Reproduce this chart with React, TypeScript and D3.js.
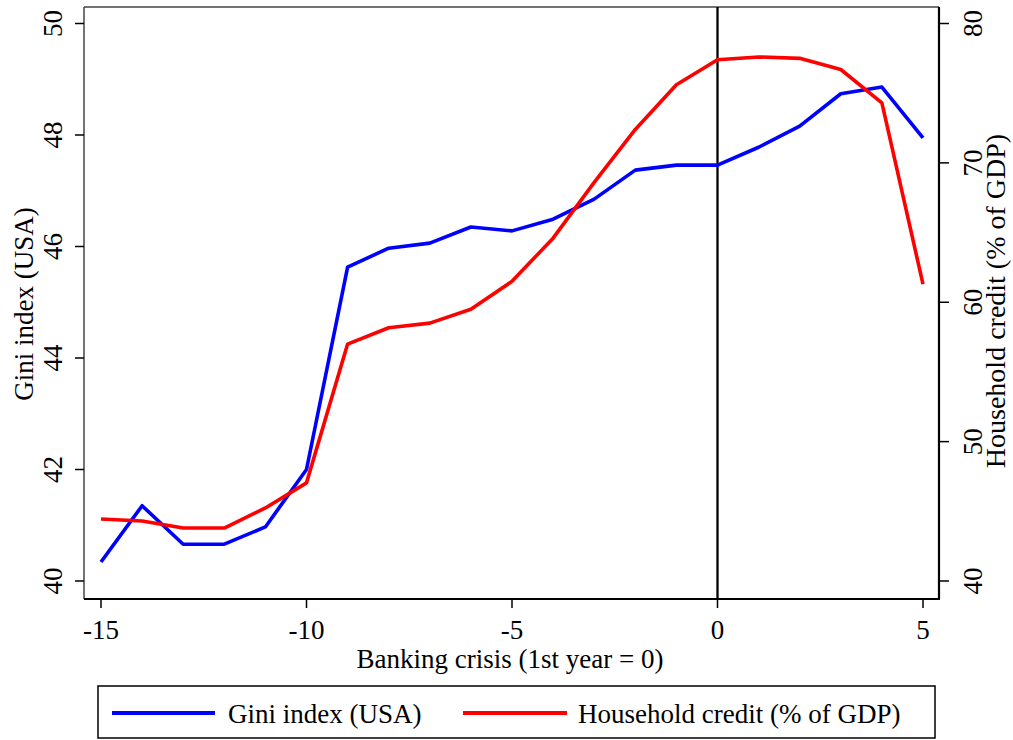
import React from "react";
import * as d3 from "d3";

const years = [-15, -14, -13, -12, -11, -10, -9, -8, -7, -6, -5, -4, -3, -2, -1, 0, 1, 2, 3, 4, 5];
const gini = [40.34, 41.35, 40.66, 40.66, 40.97, 42.0, 45.63, 45.97, 46.06, 46.35, 46.28, 46.49, 46.85, 47.37, 47.46, 47.46, 47.78, 48.16, 48.74, 48.86, 47.95];
const credit = [44.45, 44.3, 43.8, 43.8, 45.24, 47.04, 57.0, 58.17, 58.5, 59.5, 61.5, 64.6, 68.6, 72.4, 75.6, 77.4, 77.6, 77.5, 76.7, 74.3, 61.3];
const xTicks = [-15, -10, -5, 0, 5];
const leftTicks = [40, 42, 44, 46, 48, 50];
const rightTicks = [40, 50, 60, 70, 80];

const FONT = '"Liberation Serif", "Times New Roman", Times, serif';

export default function App() {
  const W = 1013, H = 740;
  const left = 84, right = 939, top = 7, bottom = 599;
  const x = d3.scaleLinear().domain([-15, 5]).range([101, 923]);
  const yL = d3.scaleLinear().domain([40, 50]).range([581, 23.5]);
  const yR = d3.scaleLinear().domain([40, 80]).range([581, 23.5]);
  const lineL = d3.line<number>().x((_, i) => x(years[i])).y((d) => yL(d));
  const lineR = d3.line<number>().x((_, i) => x(years[i])).y((d) => yR(d));
  const fs = 27;
  const ts = { fontFamily: FONT, fontSize: fs, fill: "#000" } as React.CSSProperties;
  return (
    <svg width={W} height={H} style={{ position: "absolute", left: 0, top: 0, background: "#fff", fontFamily: FONT }}>
      <rect x={0} y={0} width={W} height={H} fill="#fff" />
      {/* frame */}
      <line x1={left} x2={right} y1={top} y2={top} stroke="#444" strokeWidth={1.5} />
      <line x1={left} x2={left} y1={top} y2={bottom} stroke="#444" strokeWidth={1.5} />
      <line x1={left} x2={right + 1} y1={bottom} y2={bottom} stroke="#000" strokeWidth={2.2} />
      <line x1={right} x2={right} y1={top} y2={bottom} stroke="#000" strokeWidth={2.2} />
      {/* x ticks */}
      {xTicks.map((t) => (
        <g key={t}>
          <line x1={x(t)} x2={x(t)} y1={bottom} y2={bottom + 9} stroke="#000" strokeWidth={1.5} />
          <text x={x(t)} y={639} textAnchor="middle" style={ts}>{t < 0 ? "-" + Math.abs(t) : t}</text>
        </g>
      ))}
      <text x={510} y={668} textAnchor="middle" style={ts}>Banking crisis (1st year = 0)</text>
      {/* left ticks */}
      {leftTicks.map((t) => (
        <g key={t}>
          <line x1={left - 9} x2={left} y1={yL(t)} y2={yL(t)} stroke="#000" strokeWidth={1.5} />
          <text transform={`translate(62,${yL(t)}) rotate(-90)`} textAnchor="middle" style={ts}>{t}</text>
        </g>
      ))}
      <text transform={`translate(33,304) rotate(-90)`} textAnchor="middle" style={ts}>Gini index (USA)</text>
      {/* right ticks */}
      {rightTicks.map((t) => (
        <g key={t}>
          <line x1={right} x2={right + 10} y1={yR(t)} y2={yR(t)} stroke="#000" strokeWidth={1.5} />
          <text transform={`translate(982,${yR(t)}) rotate(-90)`} textAnchor="middle" style={ts}>{t}</text>
        </g>
      ))}
      <text transform={`translate(1005,301) rotate(-90)`} textAnchor="middle" style={{ ...ts, fontSize: 28 }}>Household credit (% of GDP)</text>
      {/* zero line */}
      <line x1={x(0)} x2={x(0)} y1={top} y2={bottom} stroke="#000" strokeWidth={2.3} />
      {/* series */}
      <path d={lineL(gini) || ""} fill="none" stroke="#0000ff" strokeWidth={3.6} strokeLinejoin="round" />
      <path d={lineR(credit) || ""} fill="none" stroke="#ff0000" strokeWidth={3.6} strokeLinejoin="round" />
      {/* legend */}
      <rect x={98} y={686} width={837} height={52} fill="#fff" stroke="#000" strokeWidth={1.5} />
      <line x1={112} x2={215} y1={713} y2={713} stroke="#0000ff" strokeWidth={4} />
      <text x={228} y={723} style={ts}>Gini index (USA)</text>
      <line x1={463} x2={567} y1={713} y2={713} stroke="#ff0000" strokeWidth={4} />
      <text x={578} y={723} style={ts}>Household credit (% of GDP)</text>
    </svg>
  );
}
